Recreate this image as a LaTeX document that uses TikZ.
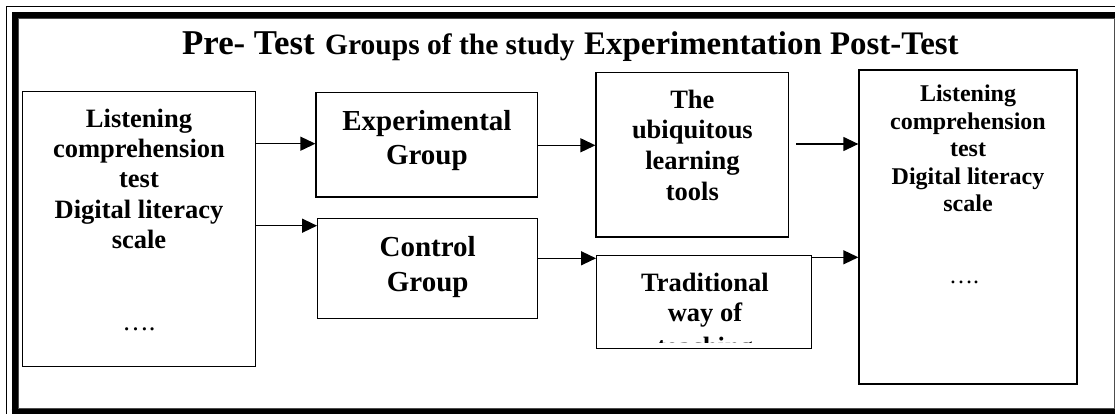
\documentclass[tikz,border=0pt]{standalone}
\usepackage{fontspec}
\setmainfont{Liberation Serif}
\usetikzlibrary{arrows.meta}
\newcommand\mylines[1]{\begin{tabular}[t]{@{}c@{}}#1\end{tabular}}
\begin{document}
\begin{tikzpicture}[x=1pt,y=-1pt,
  box/.style={draw=black,line width=1.3pt,inner sep=0pt,rectangle},
  txt/.style={anchor=base,inner sep=0pt,font=\bfseries},
  ttl/.style={anchor=base west,inner sep=0pt,font=\bfseries},
  arr/.style={line width=1.3pt,-{Triangle[length=15pt,width=14pt]}}]
\useasboundingbox (0,0) rectangle (1115,414);
\fill[white] (0,0) rectangle (1115,414);
% frame
\draw[line width=1.3pt] (6.5,420) -- (6.5,6.5) -- (1120,6.5);
\draw[line width=6pt] (14.5,420) -- (14.5,15) -- (1120,15);
\draw[line width=6pt] (11.5,412) -- (1120,412);
\draw[line width=0.8pt,black!70] (18,408.3) -- (18,18.7) -- (1114.3,18.7) -- (1114.3,408.3) -- cycle;
% title
\node[ttl] (title1) at (182,55) {\fontsize{34.8}{38}\selectfont Pre- Test};
\node[ttl] (title2) at (325,55) {\fontsize{29.5}{34}\selectfont Groups of the study};
\node[ttl] (title3) at (584,55) {\fontsize{32.9}{36}\selectfont Experimentation Post-Test};
% boxes
\node[box,minimum width=232.6pt,minimum height=275.4pt] (pre) at (139,229) {};
\node[box,minimum width=221.7pt,minimum height=104.3pt] (exp) at (426.9,144.9) {};
\node[box,minimum width=220pt,minimum height=99.6pt] (ctrl) at (427.7,268.5) {};
\node[box,minimum width=192.7pt,minimum height=164.3pt] (ubi) at (692.4,154.9) {};
\node[box,minimum width=215pt,minimum height=92.6pt] (trad) at (704.2,302) {};
\node[box,minimum width=218pt,minimum height=314pt] (post) at (968,227) {};
% texts
\node[txt] (pret) at (139,127.3) {\fontsize{26.5}{30.25}\selectfont\mylines{Listening\\comprehension\\test\\Digital literacy\\scale}};
\node[anchor=base,inner sep=0pt] (predots) at (139,330) {\fontsize{26.5}{30}\selectfont ….};
\node[txt] (expt) at (426.9,130.7) {\fontsize{29}{34.3}\selectfont\mylines{Experimental\\Group}};
\node[txt] (ctrlt) at (427.7,256.7) {\fontsize{29}{35}\selectfont\mylines{Control\\Group}};
\node[txt] (ubit) at (692.4,108.3) {\fontsize{26.5}{30.6}\selectfont\mylines{The\\ubiquitous\\learning\\tools}};
\begin{scope}
\clip (600,258) rectangle (808,342);
\node[txt] (tradt) at (705,291.7) {\fontsize{26.5}{30}\selectfont\mylines{Traditional\\way of\\[4pt]teaching}};
\end{scope}
\node[txt] (postt) at (968,101.7) {\fontsize{24}{27.5}\selectfont\mylines{Listening\\comprehension\\test\\Digital literacy\\scale}};
\node[anchor=base,inner sep=0pt] (postdots) at (964,283) {\fontsize{24}{27}\selectfont ….};
% arrows
\draw[arr] (pre.east |- 0,143.7) -- (exp.west |- 0,143.7);
\draw[arr] (pre.east |- 0,225.7) -- (ctrl.west |- 0,225.7);
\draw[arr] (exp.east |- 0,145.3) -- (ubi.west |- 0,145.3);
\draw[arr] (ctrl.east |- 0,258.3) -- (trad.west |- 0,258.3);
\draw[arr,shorten <=7pt] (ubi.east |- 0,144) -- (post.west |- 0,144);
\draw[arr] (trad.east |- 0,257.3) -- (post.west |- 0,257.3);
\end{tikzpicture}
\end{document}
